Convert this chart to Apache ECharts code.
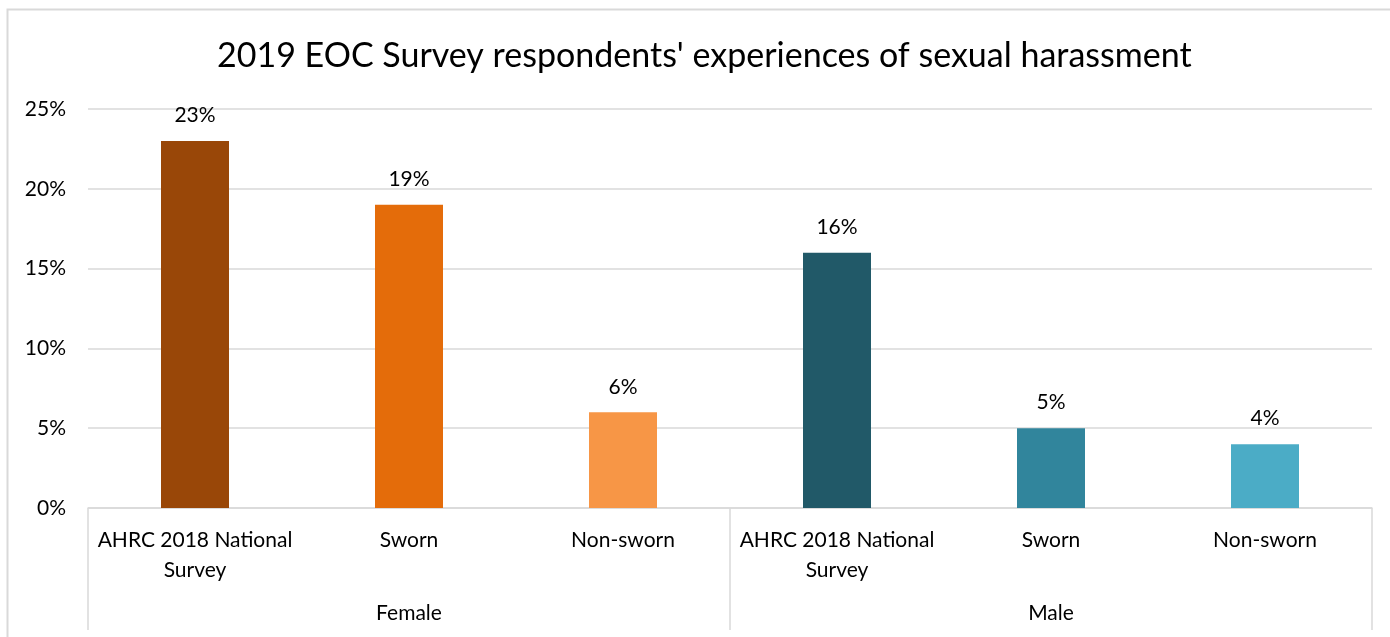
<!DOCTYPE html>
<html>
<head>
<meta charset="utf-8">
<script src="https://cdn.jsdelivr.net/npm/echarts@6/dist/echarts.min.js"></script>
<style>
  html, body { margin: 0; padding: 0; background: #fff; }
  #chart { width: 1390px; height: 637px; }
</style>
</head>
<body>
<div id="chart"></div>
<script>
// Survey categories, grouped by gender
const categories = ['AHRC 2018 National\nSurvey', 'Sworn', 'Non-sworn', 'AHRC 2018 National\nSurvey', 'Sworn', 'Non-sworn'];
const groups = ['Female', 'Male'];
// Share of respondents who experienced sexual harassment (%)
const values = [23, 19, 6, 16, 5, 4];
const barColors = ['#994708', '#E46C0A', '#F79646', '#215968', '#31859C', '#4BACC6'];
const yTicks = [0, 5, 10, 15, 20, 25];

const FONT = 'Lato, "Open Sans", sans-serif';
const GRID = '#d9d9d9';

const chart = echarts.init(document.getElementById('chart'), null, { renderer: 'canvas' });

chart.setOption({
  backgroundColor: '#fff',
  animation: false,
  textStyle: { fontFamily: FONT, color: '#000' },
  title: {
    text: "2019 EOC Survey respondents' experiences of sexual harassment",
    left: 217,
    top: 39,
    padding: 0,
    textStyle: { fontFamily: FONT, fontSize: 34, fontWeight: 'normal', color: '#000' }
  },
  graphic: [{
    type: 'rect',
    silent: true,
    shape: { x: 7.5, y: 9.5, width: 1420, height: 700 },
    style: { fill: 'none', stroke: GRID, lineWidth: 2 }
  }],
  grid: { left: 88, right: 18, top: 109, bottom: 129 },
  xAxis: [{
    type: 'category',
    data: categories,
    position: 'bottom',
    axisLine: { show: true, lineStyle: { color: GRID, width: 1.5 } },
    axisTick: { show: false },
    axisLabel: {
      interval: 0, margin: 17, fontSize: 21, lineHeight: 30,
      color: '#000', fontFamily: FONT
    }
  }, {
    type: 'category',
    data: groups,
    position: 'bottom',
    axisLine: { show: false },
    axisTick: { show: true, length: 122, lineStyle: { color: GRID, width: 1.5 } },
    axisLabel: { interval: 0, margin: 95, fontSize: 21, color: '#000', fontFamily: FONT }
  }],
  yAxis: {
    type: 'value',
    min: yTicks[0],
    max: yTicks[yTicks.length - 1],
    interval: 5,
    axisLine: { show: false },
    axisTick: { show: false },
    splitLine: { lineStyle: { color: GRID, width: 1.5 } },
    axisLabel: { formatter: '{value}%', fontSize: 21, margin: 22, color: '#000', fontFamily: FONT }
  },
  series: [{
    type: 'bar',
    xAxisIndex: 0,
    barWidth: 68,
    data: values.map((v, i) => ({ value: v, itemStyle: { color: barColors[i] } })),
    label: {
      show: true,
      position: 'top',
      distance: 15,
      formatter: '{c}%',
      fontSize: 21,
      color: '#000',
      fontFamily: FONT
    }
  }]
});
</script>
</body>
</html>
